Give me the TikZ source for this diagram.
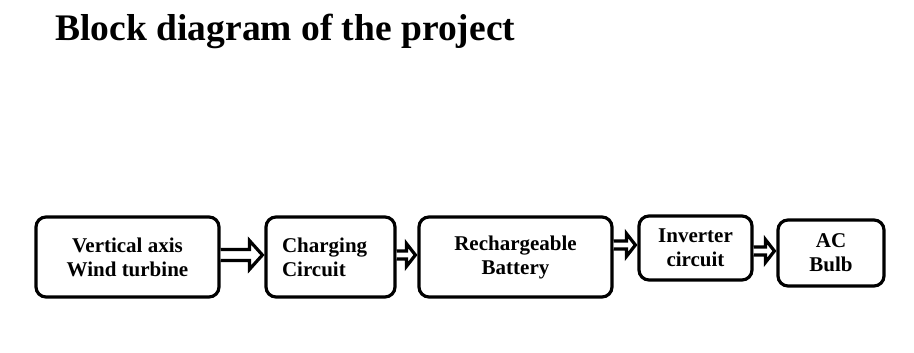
\documentclass[tikz,border=0pt]{standalone}
\usepackage{fontspec}
\setmainfont{Liberation Serif}
\usetikzlibrary{positioning, arrows.meta, calc}
\tikzset{
  blockbox/.style={draw=black, line width=3.2pt, rounded corners=10pt, align=center,
    font=\fontsize{21}{24}\selectfont\bfseries, inner sep=2pt},
  blockarrow/.style={draw=black, fill=white, line width=3.2pt, miter limit=4}
}

\begin{document}
\begin{tikzpicture}[x=1pt, y=1pt]
    \useasboundingbox (0,0) rectangle (914,353);
    \node[anchor=base west, font=\fontsize{37.5}{40}\selectfont\bfseries] (title) at (52,312) {Block diagram of the project};

    % blocks
    \node[blockbox, minimum width=183pt, minimum height=80pt] (vaw) at (127.5,96) {Vertical axis\\Wind turbine};
    \node[blockbox, minimum width=129pt, minimum height=80pt, text width=97pt, align=left] (chg) at (330.5,96) {Charging\\Circuit};
    \node[blockbox, minimum width=193pt, minimum height=80pt] (bat) at (515.5,96) {Rechargeable\\Battery};
    \node[blockbox, minimum width=113pt, minimum height=64pt] (inv) at (695.5,105) {Inverter\\circuit};
    \node[blockbox, minimum width=106pt, minimum height=66pt] (bulb) at (831,100) {AC\\Bulb};

    % hollow block arrows: from/to/mid y/half shaft/half head/head length
    \foreach \from/\to/\ym/\sw/\hw/\hl in {vaw/chg/98/5.5/14.5/13, chg/bat/98/4/11.5/9,
                                          bat/inv/108/4/11.5/9, inv/bulb/102/4/11.5/9}
      \draw[blockarrow] let \p1=(\from.east), \p2=(\to.west) in
        (\x1,{(\ym+\sw)*1pt}) -- ({\x2-\hl*1pt-2pt},{(\ym+\sw)*1pt})
        -- ({\x2-\hl*1pt-2pt},{(\ym+\hw)*1pt}) -- ({\x2-2pt},{\ym*1pt})
        -- ({\x2-\hl*1pt-2pt},{(\ym-\hw)*1pt}) -- ({\x2-\hl*1pt-2pt},{(\ym-\sw)*1pt})
        -- (\x1,{(\ym-\sw)*1pt});
\end{tikzpicture}
\end{document}
